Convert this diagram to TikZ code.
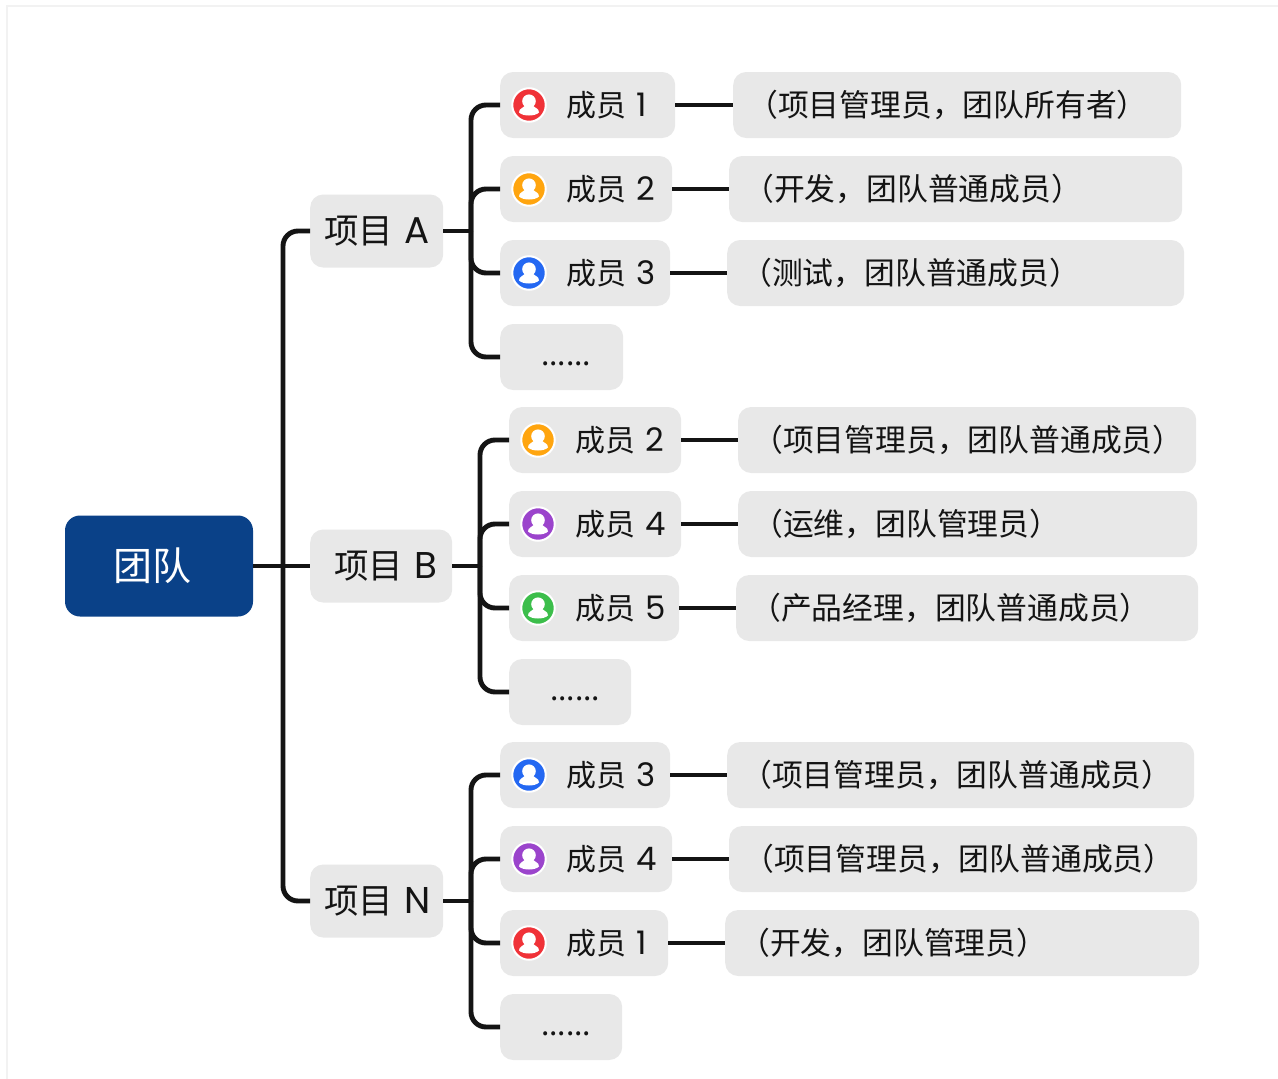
\documentclass[tikz,border=0pt]{standalone}
\usepackage{fontspec}
\setmainfont{Noto Sans CJK SC}
\newfontfamily\latfont[Scale=1.08]{Poppins}
\definecolor{boxgray}{HTML}{E8E8E8}
\definecolor{rootblue}{HTML}{0A4188}
\definecolor{inkblack}{HTML}{141414}
\definecolor{avred}{HTML}{F03238}
\definecolor{avorange}{HTML}{FFA50F}
\definecolor{avblue}{HTML}{2468F2}
\definecolor{avpurple}{HTML}{9B44CC}
\definecolor{avgreen}{HTML}{3CBE4B}
\tikzset{
  conn/.style={line width=4.9pt,draw=inkblack,rounded corners=15pt},
  tbox/.style={fill=boxgray,rounded corners=13pt,text=inkblack,anchor=west,inner sep=0pt,align=left,minimum height=66pt,font=\fontsize{30}{32}\selectfont},
  dbox/.style={tbox,font=\fontsize{30.8}{32}\selectfont},
  gbox/.style={tbox,font=\fontsize{34.5}{36}\selectfont,minimum height=73pt},
  avatar/.style={circle,fill=#1,draw=white,line width=2pt,minimum size=33.5pt,inner sep=0pt},
}
\newcommand{\latin}[1]{{\latfont #1}}
% style, name, x0, x1, yc, text start, text
\newcommand{\tb}[7]{%
  \pgfmathsetmacro{\padx}{#6-#3}\pgfmathsetmacro{\boxw}{#4-#3}%
  \node[#1,text width=\boxw pt,minimum width=\boxw pt] (#2) at (#3,#5) {\hspace*{\padx pt}\mbox{#7}};}
% name, x center, y, colour
\newcommand{\av}[4]{%
  \node[avatar=#4] (#1) at (#2,#3) {};
  \begin{scope}[shift={(#2,#3)}]
    \fill[white] (0,-3.8) circle (6.8);
    \fill[white] (-10,7.5) .. controls (-10,3.5) and (-6,3) .. (-3.5,0.5) -- (3.5,0.5) .. controls (6,3) and (10,3.5) .. (10,7.5) .. controls (6,11.5) and (-6,11.5) .. (-10,7.5) -- cycle;
  \end{scope}}
\begin{document}
\begin{tikzpicture}[x=1pt,y=-1pt]
\useasboundingbox (0,0) rectangle (1278,1079);
\fill[white] (0,0) rectangle (1278,1079);
\draw[line width=1.5pt,draw=black!5] (7,1079) -- (7,6) -- (1278,6);

\node[fill=rootblue,rounded corners=15pt,text=white,minimum width=188pt,minimum height=101pt,inner sep=0pt,font=\fontsize{39}{41}\selectfont] (root) at (159,566) {\hspace{-13pt}团队};
\coordinate (jroot) at (283,566);
\coordinate (ja) at (471,231);
\coordinate (jb) at (480,566);
\coordinate (jn) at (471,901);

\tb{gbox}{pa}{310}{443}{231}{324}{项目\ \latin{A}}
\tb{gbox}{pb}{310}{452}{566}{334}{项目\ \latin{B}}
\tb{gbox}{pn}{310}{443}{901}{324}{项目\ \latin{N}}

% project A
\tb{tbox}{m1}{500}{675}{105}{566}{成员 \latin{1}}
\tb{dbox}{d1}{733}{1181}{105}{747}{（项目管理员，团队所有者）}
\av{a1}{529}{105}{avred}
\tb{tbox}{m2}{500}{672}{189}{566}{成员 \latin{2}}
\tb{dbox}{d2}{729}{1182}{189}{743}{（开发，团队普通成员）}
\av{a2}{529}{189}{avorange}
\tb{tbox}{m3}{500}{670}{273}{566}{成员 \latin{3}}
\tb{dbox}{d3}{727}{1184}{273}{741}{（测试，团队普通成员）}
\av{a3}{529}{273}{avblue}
\tb{tbox}{m4}{500}{623}{357}{541}{\raisebox{-17pt}{......}}

% project B
\tb{tbox}{m5}{509}{681}{440}{575}{成员 \latin{2}}
\tb{dbox}{d5}{738}{1196}{440}{752}{（项目管理员，团队普通成员）}
\av{a5}{538}{440}{avorange}
\tb{tbox}{m6}{509}{681}{524}{575}{成员 \latin{4}}
\tb{dbox}{d6}{738}{1197}{524}{752}{（运维，团队管理员）}
\av{a6}{538}{524}{avpurple}
\tb{tbox}{m7}{509}{679}{608}{575}{成员 \latin{5}}
\tb{dbox}{d7}{736}{1198}{608}{750}{（产品经理，团队普通成员）}
\av{a7}{538}{608}{avgreen}
\tb{tbox}{m8}{509}{631}{692}{550}{\raisebox{-17pt}{......}}

% project N
\tb{tbox}{m9}{500}{670}{775}{566}{成员 \latin{3}}
\tb{dbox}{d9}{727}{1194}{775}{741}{（项目管理员，团队普通成员）}
\av{a9}{529}{775}{avblue}
\tb{tbox}{m10}{500}{672}{859}{566}{成员 \latin{4}}
\tb{dbox}{d10}{729}{1197}{859}{743}{（项目管理员，团队普通成员）}
\av{a10}{529}{859}{avpurple}
\tb{tbox}{m11}{500}{668}{943}{566}{成员 \latin{1}}
\tb{dbox}{d11}{725}{1199}{943}{739}{（开发，团队管理员）}
\av{a11}{529}{943}{avred}
\tb{tbox}{m12}{500}{622}{1027}{541}{\raisebox{-17pt}{......}}

% connectors
\draw[conn] (root.east) -- (pb.west);
\draw[conn] (jroot) |- (pa.west);
\draw[conn] (jroot) |- (pn.west);
\draw[conn] (pa.east) -- (ja);
\draw[conn] (pb.east) -- (jb);
\draw[conn] (pn.east) -- (jn);
\foreach \i in {1,2,3,4}{\draw[conn] (ja) |- (m\i.west);}
\foreach \i in {5,6,7,8}{\draw[conn] (jb) |- (m\i.west);}
\foreach \i in {9,10,11,12}{\draw[conn] (jn) |- (m\i.west);}
\foreach \i in {1,2,3,5,6,7,9,10,11}{\draw[conn] (m\i.east) -- (d\i.west);}
\end{tikzpicture}
\end{document}
